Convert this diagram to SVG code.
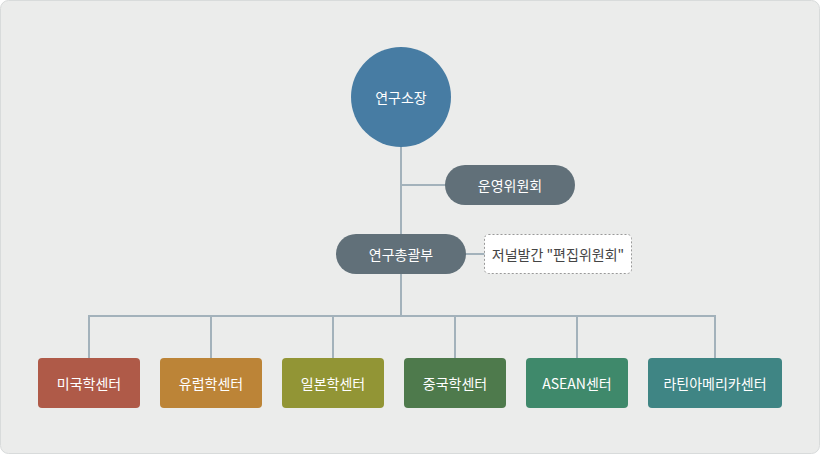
<svg xmlns="http://www.w3.org/2000/svg" width="820" height="454" viewBox="0 0 820 454">
<style>
text{font-family:"Noto Sans CJK KR","Noto Sans",sans-serif;font-size:14px;fill:#fff;text-anchor:middle;dominant-baseline:central}
.c line{stroke:#a3b2bb;stroke-width:2}
.pill{fill:#617079}
</style>
<rect x="0.5" y="0.5" width="819" height="453" rx="8" fill="#ebeceb" stroke="#d8dbdb"/>
<g class="c">
<line x1="401" y1="140" x2="401" y2="317"/>
<line x1="401" y1="185" x2="446" y2="185"/>
<line x1="465" y1="254" x2="485" y2="254"/>
<line x1="89" y1="316" x2="715" y2="316"/>
<line x1="89" y1="315" x2="89" y2="358"/>
<line x1="211" y1="315" x2="211" y2="358"/>
<line x1="333" y1="315" x2="333" y2="358"/>
<line x1="455" y1="315" x2="455" y2="358"/>
<line x1="577" y1="315" x2="577" y2="358"/>
<line x1="715" y1="315" x2="715" y2="358"/>
</g>
<g id="director"><circle cx="401" cy="97" r="50" fill="#477ca3"/><text x="401" y="97" font-size="16">연구소장</text></g>
<g id="committee"><rect class="pill" x="445" y="165" width="130" height="40" rx="20"/><text x="510" y="185">운영위원회</text></g>
<g id="general"><rect class="pill" x="336" y="234" width="130" height="40" rx="20"/><text x="401" y="254">연구총괄부</text></g>
<g id="editorial"><rect x="484.5" y="234.5" width="147" height="39" rx="4" fill="#fff" stroke="#999" stroke-dasharray="2,2"/><text x="558" y="254" font-size="12" style="fill:#444">저널발간 "편집위원회"</text></g>
<g id="us"><rect x="38" y="358" width="102" height="50" rx="4" fill="#af5a48"/><text x="89" y="383">미국학센터</text></g>
<g id="eu"><rect x="160" y="358" width="102" height="50" rx="4" fill="#bc8437"/><text x="211" y="383">유럽학센터</text></g>
<g id="jp"><rect x="282" y="358" width="102" height="50" rx="4" fill="#929535"/><text x="333" y="383">일본학센터</text></g>
<g id="cn"><rect x="404" y="358" width="102" height="50" rx="4" fill="#4e7a4c"/><text x="455" y="383">중국학센터</text></g>
<g id="asean"><rect x="526" y="358" width="102" height="50" rx="4" fill="#3f896b"/><text x="577" y="383">ASEAN센터</text></g>
<g id="latam"><rect x="648" y="358" width="134" height="50" rx="4" fill="#3f8584"/><text x="715" y="383">라틴아메리카센터</text></g>
</svg>
